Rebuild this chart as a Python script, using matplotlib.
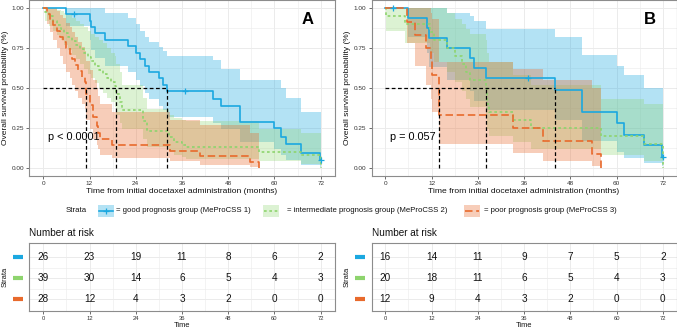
import matplotlib
matplotlib.use('Agg')
import matplotlib.pyplot as plt
from matplotlib.lines import Line2D
from matplotlib.patches import Rectangle

plt.rcParams['font.family'] = ['Liberation Sans', 'DejaVu Sans']

# ---------------- data ----------------
strata_labels = ['= good prognosis group (MeProCSS 1)',
                 '= intermediate prognosis group (MeProCSS 2)',
                 '= poor prognosis group (MeProCSS 3)']
colors = ['#1BA8E0', '#8ED46E', '#E86A2C']

# Panel A
A_good_t = [0, 6, 12, 12.5, 13.5, 16, 22, 24, 25, 26.5, 27.5, 30, 31, 32, 44, 46, 51, 60, 61.7, 63, 66.8, 71.9, 72]
A_good_s = [1, .962, .921, .882, .842, .801, .761, .721, .681, .641, .601, .561, .521, .481, .433, .385, .289, .248, .195, .146, .094, .046, .046]
A_good_hi = [1, 1, 1, 1, 1, .97, .94, .90, .86, .82, .79, .76, .73, .70, .675, .62, .55, .55, .50, .44, .35, .35, .35]
A_good_lo = [1, .89, .80, .74, .69, .64, .60, .55, .51, .47, .43, .39, .36, .32, .28, .24, .16, .12, .08, .05, .02, .005, .005]
A_good_cens_t = [8, 36.9, 72]
A_good_cens_s = [.962, .481, .046]

A_int_t = [0, 0.5, 1.5, 2.5, 3.5, 4.5, 5.5, 6.5, 7.5, 8.5, 9.5, 10.5, 11.5, 12.5, 13.5, 14.5, 15.5, 16.5, 17.5, 18.5, 18.9, 19.8, 20.5, 26, 27, 32.5, 34, 36, 37, 56, 67, 72]
A_int_s = [1, .974, .949, .923, .897, .872, .846, .821, .795, .769, .744, .718, .692, .667, .641, .615, .590, .564, .538, .513, .462, .41, .36, .29, .23, .195, .16, .14, .13, .10, .077, 0]
A_int_hi = [1, 1, 1, 1, .99, .98, .97, .96, .94, .92, .90, .88, .86, .84, .82, .80, .78, .75, .72, .70, .65, .60, .52, .44, .37, .33, .31, .30, .29, .24, .22, .22]
A_int_lo = [1, .92, .89, .86, .83, .80, .77, .74, .71, .68, .65, .62, .59, .56, .53, .50, .47, .44, .41, .38, .33, .28, .24, .18, .13, .10, .08, .065, .055, .04, .025, .025]

A_poor_t = [0, 0.9, 1.7, 2.6, 3.5, 4.3, 5.2, 6.0, 6.9, 7.5, 8.2, 9.1, 10.0, 10.8, 11.1, 12.1, 13.0, 13.9, 14.3, 14.7, 17.8, 32.9, 40.8, 53.6, 56.0]
A_poor_s = [1, .964, .929, .893, .857, .821, .786, .75, .714, .679, .643, .607, .571, .536, .464, .393, .321, .26, .22, .179, .143, .107, .071, .036, 0]
A_poor_hi = [1, 1, 1, 1, .98, .96, .94, .91, .88, .85, .82, .79, .76, .73, .67, .61, .55, .50, .45, .40, .35, .30, .27, .22, .22]
A_poor_lo = [1, .90, .85, .80, .75, .70, .65, .60, .56, .52, .48, .44, .40, .37, .30, .24, .18, .14, .12, .08, .06, .04, .02, .005, .005]

A_medians = [32.0, 18.9, 11.1]
A_pval = 'p < 0.0001'

# Panel B
B_good_t = [0, 5.8, 10.7, 11.2, 15.9, 21.9, 23, 26, 44, 50.9, 60, 62, 67.1, 71.9, 72]
B_good_s = [1, .9375, .875, .8125, .75, .6875, .625, .5625, .49, .35, .28, .206, .14, .07, .07]
B_good_hi = [1, 1, 1, 1, .97, .95, .92, .87, .82, .71, .64, .58, .50, .50, .50]
B_good_lo = [1, .82, .72, .63, .55, .48, .42, .36, .30, .17, .10, .06, .03, .01, .01]
B_good_cens_t = [2, 36.9, 72]
B_good_cens_s = [1, .5625, .07]

B_int_t = [0, 0.2, 5.0, 11.6, 12.5, 16, 18, 20, 21, 22, 26, 26.5, 27, 33, 37.7, 56, 67, 72]
B_int_s = [1, .95, .90, .85, .80, .75, .70, .65, .60, .55, .50, .40, .35, .30, .25, .20, .15, 0]
B_int_hi = [1, 1, 1, 1, 1, .97, .93, .90, .87, .84, .80, .72, .66, .58, .52, .43, .40, .40]
B_int_lo = [1, .86, .78, .72, .66, .60, .54, .48, .43, .38, .33, .24, .20, .16, .12, .08, .04, .04]

B_poor_t = [0, 5.5, 7.7, 10.5, 11.8, 12.2, 14, 33, 40.8, 53.6, 56]
B_poor_s = [1, .917, .833, .75, .667, .583, .333, .25, .167, .083, 0]
B_poor_hi = [1, 1, 1, 1, .97, .93, .66, .62, .55, .50, .50]
B_poor_lo = [1, .78, .64, .52, .43, .35, .15, .09, .04, .01, .01]

B_medians = [44.1, 26.0, 13.9]
B_pval = 'p = 0.057'

risk_times = [0, 12, 24, 36, 48, 60, 72]
A_risk_good = [26, 23, 19, 11, 8, 6, 2]
A_risk_int = [39, 30, 14, 6, 5, 4, 3]
A_risk_poor = [28, 12, 4, 3, 2, 0, 0]
B_risk_good = [16, 14, 11, 9, 7, 5, 2]
B_risk_int = [20, 18, 11, 6, 5, 4, 3]
B_risk_poor = [12, 9, 4, 3, 2, 0, 0]

# ---------------- style ----------------
W, H = 677, 333
fig = plt.figure(figsize=(W / 100, H / 100), dpi=100)

def fx(px):
    return px / W

def fy(py):
    return 1 - py / H

linestyles = ['-', (0, (1.6, 1.6)), (0, (4.5, 2.2))]
fill_alpha = [0.33, 0.30, 0.33]
grid_c = '#EBEBEB'
border_c = '#8C8C8C'
tick_c = '#333333'
xticks = [0, 12, 24, 36, 48, 60, 72]
xminor = [6, 18, 30, 42, 54, 66]


def style_axes(ax):
    for sp in ax.spines.values():
        sp.set_color(border_c)
        sp.set_linewidth(0.8)
    ax.set_xlim(-3.6, 75.6)
    ax.set_xticks(xticks)
    ax.set_xticks(xminor, minor=True)
    ax.tick_params(axis='both', which='major', labelsize=4.6, colors=tick_c,
                   length=2.2, width=0.5, pad=1.5)
    ax.tick_params(axis='both', which='minor', length=0)
    ax.grid(True, which='major', color=grid_c, lw=0.7)
    ax.grid(True, which='minor', color=grid_c, lw=0.4)
    ax.set_axisbelow(True)


def km_panel(left_px, curves, cens, medians, pval, letter):
    ax = fig.add_axes([fx(left_px), fy(175.7), fx(305.2), 175.4 / H])
    style_axes(ax)
    ax.set_ylim(-0.05, 1.05)
    ax.set_yticks([0, 0.25, 0.5, 0.75, 1.0])
    ax.set_yticks([0.125, 0.375, 0.625, 0.875], minor=True)
    ax.set_yticklabels(['0.00', '0.25', '0.50', '0.75', '1.00'])
    for i, (t, s, lo, hi) in enumerate(curves):
        ax.fill_between(t, lo, hi, step='post', color=colors[i],
                        alpha=fill_alpha[i], lw=0)
    for i, (t, s, lo, hi) in enumerate(curves):
        ax.step(t, s, where='post', color=colors[i], lw=1.2,
                linestyle=linestyles[i], zorder=3)
    ct, cs = cens
    ax.plot(ct, cs, linestyle='none', marker='+', color=colors[0], ms=5,
            mew=0.9, zorder=4)
    # median lines
    ax.plot([0, max(medians)], [0.5, 0.5], color='black', lw=0.9,
            linestyle=(0, (3, 2)), zorder=5)
    for m in medians:
        ax.plot([m, m], [0, 0.5], color='black', lw=0.9,
                linestyle=(0, (3, 2)), zorder=5)
    ax.text(1.3, 0.19, pval, fontsize=7.8, ha='left', va='center', zorder=6)
    ax.text(68.7, 0.93, letter, fontsize=12, fontweight='bold', ha='center',
            va='center', zorder=6)
    ax.set_xlabel('Time from initial docetaxel administration (months)',
                  fontsize=6.1, labelpad=1.5, color='#111111')
    ax.set_ylabel('Overall survival probability (%)', fontsize=6.0,
                  labelpad=2, color='#111111')
    return ax


axA = km_panel(29.4,
               [(A_good_t, A_good_s, A_good_lo, A_good_hi),
                (A_int_t, A_int_s, A_int_lo, A_int_hi),
                (A_poor_t, A_poor_s, A_poor_lo, A_poor_hi)],
               (A_good_cens_t, A_good_cens_s), A_medians, A_pval, 'A')
axB = km_panel(371.5,
               [(B_good_t, B_good_s, B_good_lo, B_good_hi),
                (B_int_t, B_int_s, B_int_lo, B_int_hi),
                (B_poor_t, B_poor_s, B_poor_lo, B_poor_hi)],
               (B_good_cens_t, B_good_cens_s), B_medians, B_pval, 'B')


def risk_table(left_px, rows):
    ax = fig.add_axes([fx(left_px), fy(311), fx(305.2), 68 / H])
    style_axes(ax)
    ax.set_ylim(0.43, 3.67)
    ax.set_yticks([1, 2, 3])
    ax.set_yticks([1.5, 2.5], minor=True)
    ax.set_yticklabels(['', '', ''])
    ax.tick_params(axis='y', which='major', length=0)
    ax.tick_params(axis='x', which='major', labelsize=4.2)
    ypos = [3, 2, 1]
    for i, r in enumerate(rows):
        for t, n in zip(risk_times, r):
            ax.text(t, ypos[i], str(n), ha='center', va='center',
                    fontsize=7.2, color='#111111')
        ax.plot([-0.054, -0.021], [ypos[i], ypos[i]], color=colors[i], lw=3,
                solid_capstyle='butt', clip_on=False,
                transform=ax.get_yaxis_transform())
    ax.text(0, 1 + 10 / 68, 'Number at risk', transform=ax.transAxes,
            ha='left', va='center', fontsize=7.2, color='#111111')
    ax.set_xlabel('Time', fontsize=5.4, labelpad=0.5, color='#111111')
    ax.text(-24.0 / 305.2, 0.5, 'Strata', transform=ax.transAxes,
            rotation=90, ha='center', va='center', fontsize=5.4,
            color='#111111')
    return ax


risk_table(29.4, [A_risk_good, A_risk_int, A_risk_poor])
risk_table(371.5, [B_risk_good, B_risk_int, B_risk_poor])

# ---------------- legend ----------------
lax = fig.add_axes([0, 0, 1, 1], facecolor='none')
lax.set_xlim(0, W)
lax.set_ylim(H, 0)
lax.axis('off')
ly = 211
lax.text(66, ly, 'Strata', fontsize=5.6, ha='left', va='center', color='#111111')
key_x = [98, 263, 464]
label_x = [116, 287, 484]
for i in range(3):
    lax.add_patch(Rectangle((key_x[i], ly - 6), 16, 12,
                            facecolor=colors[i], alpha=fill_alpha[i], lw=0))
    lax.add_line(Line2D([key_x[i] + 1, key_x[i] + 15], [ly, ly], color=colors[i],
                        lw=1.2, linestyle=linestyles[i]))
    if i == 0:
        lax.plot([key_x[i] + 8], [ly], marker='+', color=colors[i], ms=5, mew=0.9)
    lax.text(label_x[i], ly, strata_labels[i], fontsize=5.6, ha='left',
             va='center', color='#111111')

fig.savefig('out.png', dpi=100)
